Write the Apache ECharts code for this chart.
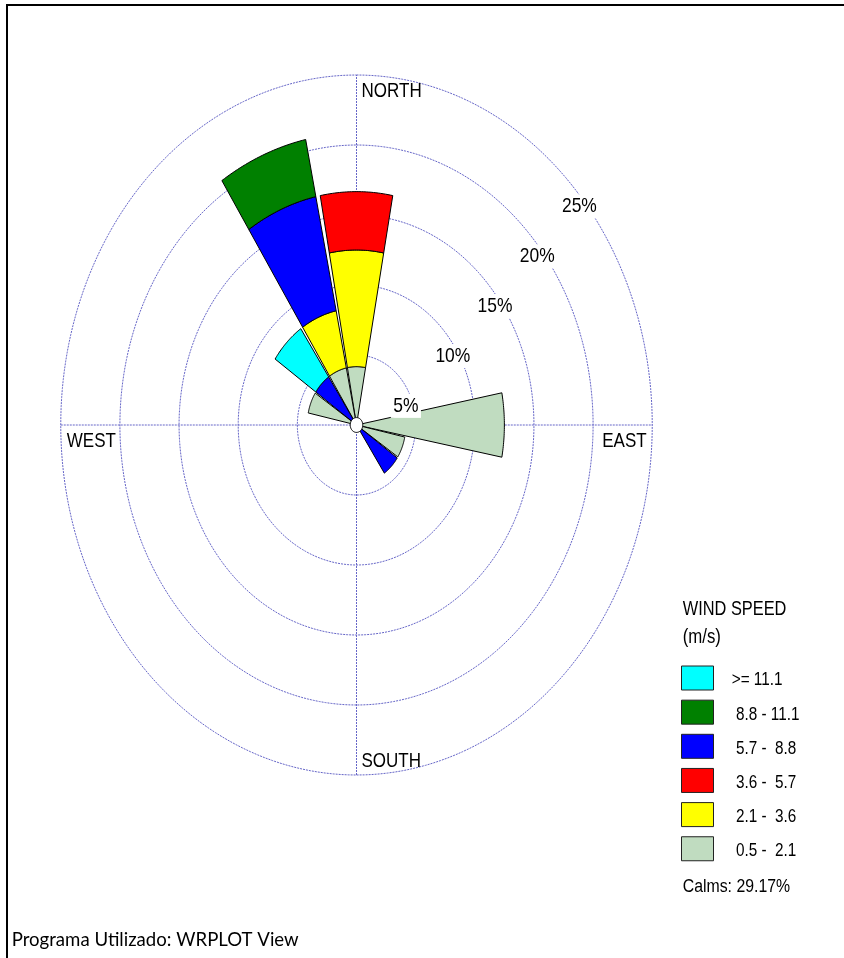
<!DOCTYPE html>
<html><head><meta charset="utf-8">
<script src="https://cdn.jsdelivr.net/npm/echarts@6/dist/echarts.min.js"></script>
<style>html,body{margin:0;padding:0;background:#fff}#c{width:844px;height:958px}</style>
</head><body><div id="c"></div>
<script>
// ---- data ----
const DIRECTIONS = ['N','NNE','NE','ENE','E','ESE','SE','SSE','S','SSW','SW','WSW','W','WNW','NW','NNW'];
const SPEED_CLASSES = ['0.5 - 2.1','2.1 - 3.6','3.6 - 5.7','5.7 - 8.8','8.8 - 11.1','>= 11.1'];
const LEGEND_LABELS = [' 0.5 -  2.1',' 2.1 -  3.6',' 3.6 -  5.7',' 5.7 -  8.8',' 8.8 - 11.1','>= 11.1'];
const CLASS_COLORS = ['#C0DCC0','#FFFF00','#FF0000','#0000FF','#008000','#00FFFF'];
// frequency (%) per direction, N..NNW
const freq_05_21  = [4.17,0,0,0,12.5,4.17,0,0,0,0,0,0,0,4.17,0,4.17];
const freq_21_36  = [8.33,0,0,0,0,0,0,0,0,0,0,0,0,0,0,4.17];
const freq_36_57  = [4.17,0,0,0,0,0,0,0,0,0,0,0,0,0,0,0];
const freq_57_88  = [0,0,0,0,0,0,4.17,0,0,0,0,0,0,0,4.17,8.33];
const freq_88_111 = [0,0,0,0,0,0,0,0,0,0,0,0,0,0,0,4.17];
const freq_111    = [0,0,0,0,0,0,0,0,0,0,0,0,0,0,4.17,0];
const RING_TICKS = [5,10,15,20,25];
const RING_LABELS = ['5%','10%','15%','20%','25%'];
const CARDINALS = ['NORTH','EAST','SOUTH','WEST'];
const CALMS_LABEL = 'Calms: 29.17%';
const LEGEND_TITLE = 'WIND SPEED';
const LEGEND_UNIT = '(m/s)';
const FOOTER = 'Programa Utilizado: WRPLOT View';

// ---- build ----
const FREQS = [freq_05_21, freq_21_36, freq_36_57, freq_57_88, freq_88_111, freq_111];
const SQ = 0.81;                // horizontal squeeze of the original text
const HALF = 10.6;              // petal half width (deg)
const RMAX = RING_TICKS[RING_TICKS.length-1];
const FONT = '"Liberation Sans", Arial, sans-serif';
const RAD = Math.PI/180;
const ringColor = '#6666C8';

const chart = echarts.init(document.getElementById('c'), null, {renderer:'canvas'});

function ellipsePts(api, r, n){
  const p=[]; for(let k=0;k<n;k++){const a=2*Math.PI*k/n; p.push(api.coord([r*Math.sin(a), r*Math.cos(a)]));} return p;
}

const base = DIRECTIONS.map(()=>0);
const petalSeries = FREQS.map((arr, k) => {
  const data = [];
  arr.forEach((v,i)=>{ if(v>0){ data.push([i, base[i], base[i]+v]); base[i]+=v; } });
  return {
    type:'custom', name: SPEED_CLASSES[k], coordinateSystem:'cartesian2d', z:3,
    itemStyle:{color: CLASS_COLORS[k]},
    data,
    renderItem(params, api){
      const d=api.value(0), r0=api.value(1), r1=api.value(2);
      const c=d*360/DIRECTIONS.length, a0=(c-HALF)*RAD, a1=(c+HALF)*RAD, N=30;
      const pts=[];
      for(let j=0;j<=N;j++){const a=a0+(a1-a0)*j/N; pts.push(api.coord([r1*Math.sin(a), r1*Math.cos(a)]));}
      if(r0>0){ for(let j=N;j>=0;j--){const a=a0+(a1-a0)*j/N; pts.push(api.coord([r0*Math.sin(a), r0*Math.cos(a)]));} }
      else pts.push(api.coord([0,0]));
      return {type:'polygon', shape:{points:pts}, style:{fill:api.visual('color'), stroke:'#000', lineWidth:1}};
    }
  };
});

const ringSeries = {
  type:'custom', name:'rings', coordinateSystem:'cartesian2d', z:1, silent:true,
  data: RING_TICKS.map(t=>[t]),
  renderItem(params, api){
    const r=api.value(0);
    return {type:'polygon', shape:{points:ellipsePts(api,r,240)}, style:{fill:'none', stroke:ringColor, lineWidth:1, lineDash:[2,1]}};
  }
};
const crossSeries = {
  type:'custom', name:'axes', coordinateSystem:'cartesian2d', z:1, silent:true,
  data: [[0],[90]],
  renderItem(params, api){
    const a=api.value(0)*RAD;
    const p1=api.coord([-RMAX*Math.sin(a), -RMAX*Math.cos(a)]), p2=api.coord([RMAX*Math.sin(a), RMAX*Math.cos(a)]);
    return {type:'line', shape:{x1:p1[0],y1:p1[1],x2:p2[0],y2:p2[1]}, style:{stroke:ringColor, lineWidth:1, lineDash:[2,1]}};
  }
};
const calmSeries = {
  type:'custom', name:'calm', coordinateSystem:'cartesian2d', z:5, silent:true,
  data:[[0.53]],
  renderItem(params, api){
    return {type:'polygon', shape:{points:ellipsePts(api, api.value(0), 60)}, style:{fill:'#fff', stroke:'#000', lineWidth:1}};
  }
};
const ringLabelSeries = {
  type:'custom', name:'ringLabels', coordinateSystem:'cartesian2d', z:6, silent:true,
  data: RING_TICKS.map((t,i)=>[t,i]),
  renderItem(params, api){
    const t=api.value(0), i=api.value(1);
    const p=api.coord([0.713*t-0.5, 0.713*t-2.2]);
    return {type:'text', x:p[0]-2, y:p[1], scaleX:0.83,
      style:{text:RING_LABELS[i], font:'21px '+FONT, fill:'#000', align:'left', verticalAlign:'middle',
             backgroundColor:'#fff', padding:[2,3,1,3]}};
  }
};
// cardinal labels: [angle, index, dx(px), dy(px), align]
const cardinalSeries = {
  type:'custom', name:'cardinals', coordinateSystem:'cartesian2d', z:6, silent:true,
  data: [[0,0,5,16.5,0],[90,1,-5.6,16,1],[180,2,5,-14,0],[270,3,6,16,0]],
  renderItem(params, api){
    const a=api.value(0)*RAD, i=api.value(1);
    const p=api.coord([RMAX*Math.sin(a), RMAX*Math.cos(a)]);
    return {type:'text', x:p[0]+api.value(2), y:p[1]+api.value(3), scaleX:SQ,
      style:{text:CARDINALS[i], font:'21px '+FONT, fill:'#000', align: api.value(4)?'right':'left', verticalAlign:'middle'}};
  }
};

// legend via graphic
const graphics = [];
graphics.push({type:'line', shape:{x1:6,y1:5,x2:844,y2:5}, style:{stroke:'#000', lineWidth:2}});
graphics.push({type:'line', shape:{x1:7,y1:4,x2:7,y2:958}, style:{stroke:'#000', lineWidth:2}});
graphics.push({type:'text', x:682.7, y:609, scaleX:0.78, style:{text:LEGEND_TITLE, font:'21px '+FONT, fill:'#000', align:'left', verticalAlign:'middle'}});
graphics.push({type:'text', x:682.7, y:637, scaleX:0.8, style:{text:LEGEND_UNIT, font:'21px '+FONT, fill:'#000', align:'left', verticalAlign:'middle'}});
const order = SPEED_CLASSES.map((_,i)=>i).reverse();
order.forEach((k, row)=>{
  const top = 666 + row*34.15;
  graphics.push({type:'rect', shape:{x:681.5, y:top, width:32, height:24}, style:{fill:CLASS_COLORS[k], stroke:'#222', lineWidth:1}});
  graphics.push({type:'text', x:731.7, y:top+14.5, scaleX:0.85, style:{text:LEGEND_LABELS[k], font:'18px '+FONT, fill:'#000', align:'left', verticalAlign:'middle'}});
});
graphics.push({type:'text', x:682.7, y:887, scaleX:0.88, style:{text:CALMS_LABEL, font:'18px '+FONT, fill:'#000', align:'left', verticalAlign:'middle'}});
graphics.push({type:'text', x:11.7, y:940, scaleX:0.93, style:{text:FOOTER, font:'20px Lato, "Open Sans", sans-serif', fill:'#000', align:'left', verticalAlign:'middle'}});

const PX_X = 11.83, PX_Y = 14, CX = 356.5, CY = 425, SPAN = 30;
chart.setOption({
  animation:false,
  backgroundColor:'#fff',
  grid:{left: CX-SPAN*PX_X, top: CY-SPAN*PX_Y, width: 2*SPAN*PX_X, height: 2*SPAN*PX_Y, containLabel:false},
  xAxis:{type:'value', min:-SPAN, max:SPAN, show:false},
  yAxis:{type:'value', min:-SPAN, max:SPAN, show:false},
  graphic: graphics,
  series:[ringSeries, crossSeries, ...petalSeries, calmSeries, ringLabelSeries, cardinalSeries]
});
</script></body></html>
